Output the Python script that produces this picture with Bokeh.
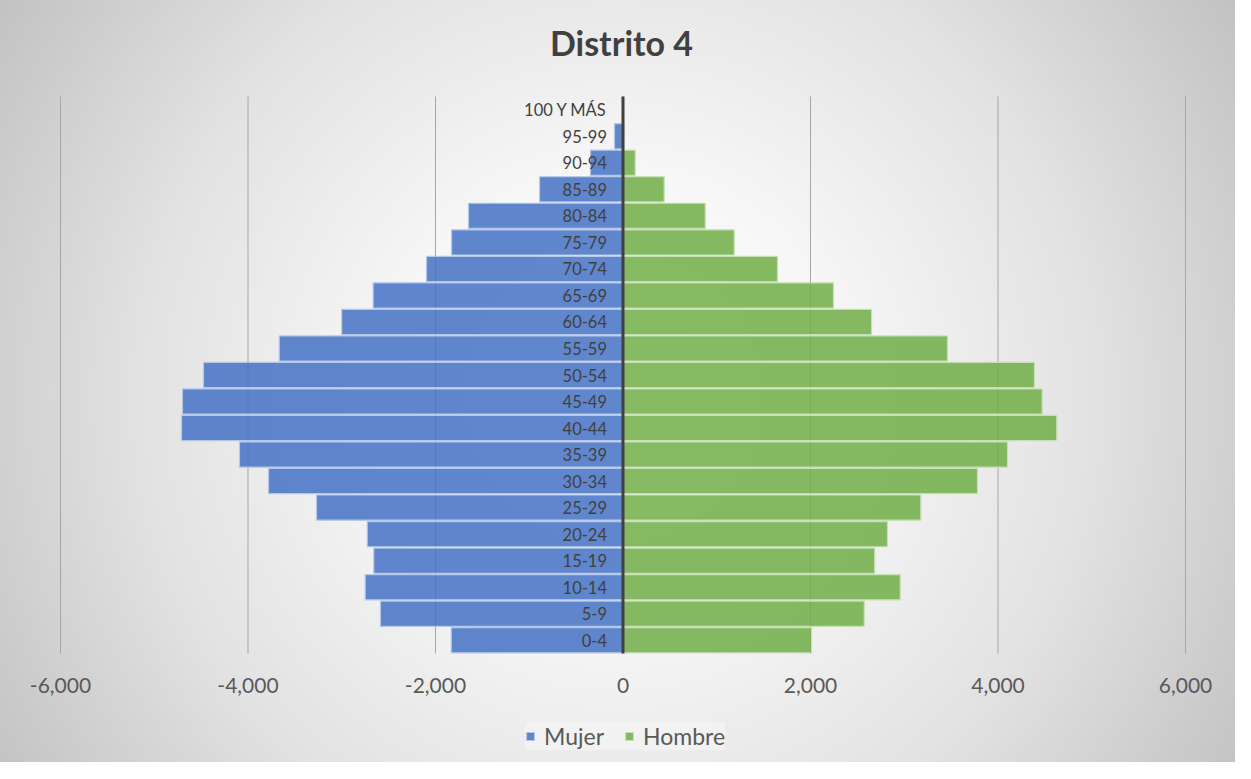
from bokeh.plotting import figure
from bokeh.models import ColumnDataSource, Legend, LegendItem, Range1d
from bokeh.core.properties import value
from bokeh.embed import file_html
from bokeh.resources import INLINE

title_text = "Distrito 4"
categories = ["0-4", "5-9", "10-14", "15-19", "20-24", "25-29", "30-34", "35-39",
              "40-44", "45-49", "50-54", "55-59", "60-64", "65-69", "70-74", "75-79",
              "80-84", "85-89", "90-94", "95-99", "100 Y MÁS"]
mujer = [1832, 2587, 2750, 2658, 2728, 3269, 3781, 4091, 4709, 4699, 4475,
         3667, 3000, 2665, 2096, 1829, 1648, 890, 347, 91, 5]
hombre = [2011, 2573, 2957, 2685, 2821, 3177, 3781, 4101, 4627, 4471, 4389,
          3461, 2651, 2245, 1648, 1186, 877, 439, 130, 10, 0]
x_ticks = [-6000, -4000, -2000, 0, 2000, 4000, 6000]

n = len(categories)
src = ColumnDataSource(dict(
    y=list(range(n)),
    cat=categories,
    mujer=[-v for v in mujer],
    hombre=hombre,
    zero=[0] * n,
))
lo, hi = -0.5, n - 0.5
tick_src = ColumnDataSource(dict(
    x=x_ticks,
    y0=[lo] * len(x_ticks),
    y1=[hi] * len(x_ticks),
    label=[f"{t:,}" for t in x_ticks],
))

FONT = "Lato"
W, H = 1235, 762
TOP = 96
px_per_unit = 1125 / 12000.0
zero_px = 622.5
row_px = 557 / 21.0
x_range = Range1d(-zero_px / px_per_unit, (W - zero_px) / px_per_unit)
y_range = Range1d(hi - (H - TOP) / row_px, hi + TOP / row_px)

p = figure(width=W, height=H, output_backend="svg", toolbar_location=None,
           x_range=x_range, y_range=y_range,
           min_border_left=0, min_border_right=0, min_border_top=0, min_border_bottom=0)
p.styles = {"background": "radial-gradient(circle farthest-corner at 50% 52%, #ffffff 0%, #f7f7f7 30%, #e2e2e2 65%, #c2c2c2 100%)"}
p.background_fill_color = None
p.border_fill_color = None
p.outline_line_color = None

p.xaxis.visible = False
p.yaxis.visible = False
p.xgrid.visible = False
p.ygrid.visible = False

# title
p.text(x=[0], y=[hi], text=[title_text], x_offset=-1.5, y_offset=-54,
       text_align="center", text_baseline="middle", text_font=value(FONT),
       text_font_style="bold", text_font_size="34px", text_color="#404040")

# vertical gridlines
p.segment(x0="x", y0="y0", x1="x", y1="y1", source=tick_src,
          line_color="#a6a6a6", line_width=1)

# value tick labels
p.text(x="x", y="y0", text="label", source=tick_src, y_offset=32,
       text_align="center", text_baseline="middle", text_font=value(FONT),
       text_font_size="21px", text_color="#595959")

r_m = p.hbar(y="y", left="mujer", right="zero", height=0.95, source=src,
             fill_color="#4472C4", fill_alpha=0.85, line_color="#b4c7e7", line_width=1.2)
r_h = p.hbar(y="y", left="zero", right="hombre", height=0.95, source=src,
             fill_color="#70AD47", fill_alpha=0.85, line_color="#c5e0b4", line_width=1.2)

# category axis line at zero
p.segment(x0=[0], y0=[lo], x1=[0], y1=[hi], line_color="#404040", line_width=3)

p.text(x=0, y="y", text="cat", source=src, x_offset=-16, text_align="right",
       text_baseline="middle", text_font=value(FONT), text_font_size="16.5px",
       text_color="#404040")

legend = Legend(items=[LegendItem(label="Mujer", renderers=[r_m]),
                       LegendItem(label="Hombre", renderers=[r_h])],
                orientation="horizontal", location=(525, 12))
legend.glyph_width = 10
legend.glyph_height = 10
legend.label_text_font = FONT
legend.label_text_font_size = "23px"
legend.label_text_color = "#595959"
legend.label_standoff = 9
legend.spacing = 20
legend.padding = 12
legend.margin = 0
legend.background_fill_color = "#ffffff"
legend.background_fill_alpha = 0.3
legend.border_line_color = None
p.add_layout(legend, "center")

open("out.html", "w").write(file_html(p, INLINE))
